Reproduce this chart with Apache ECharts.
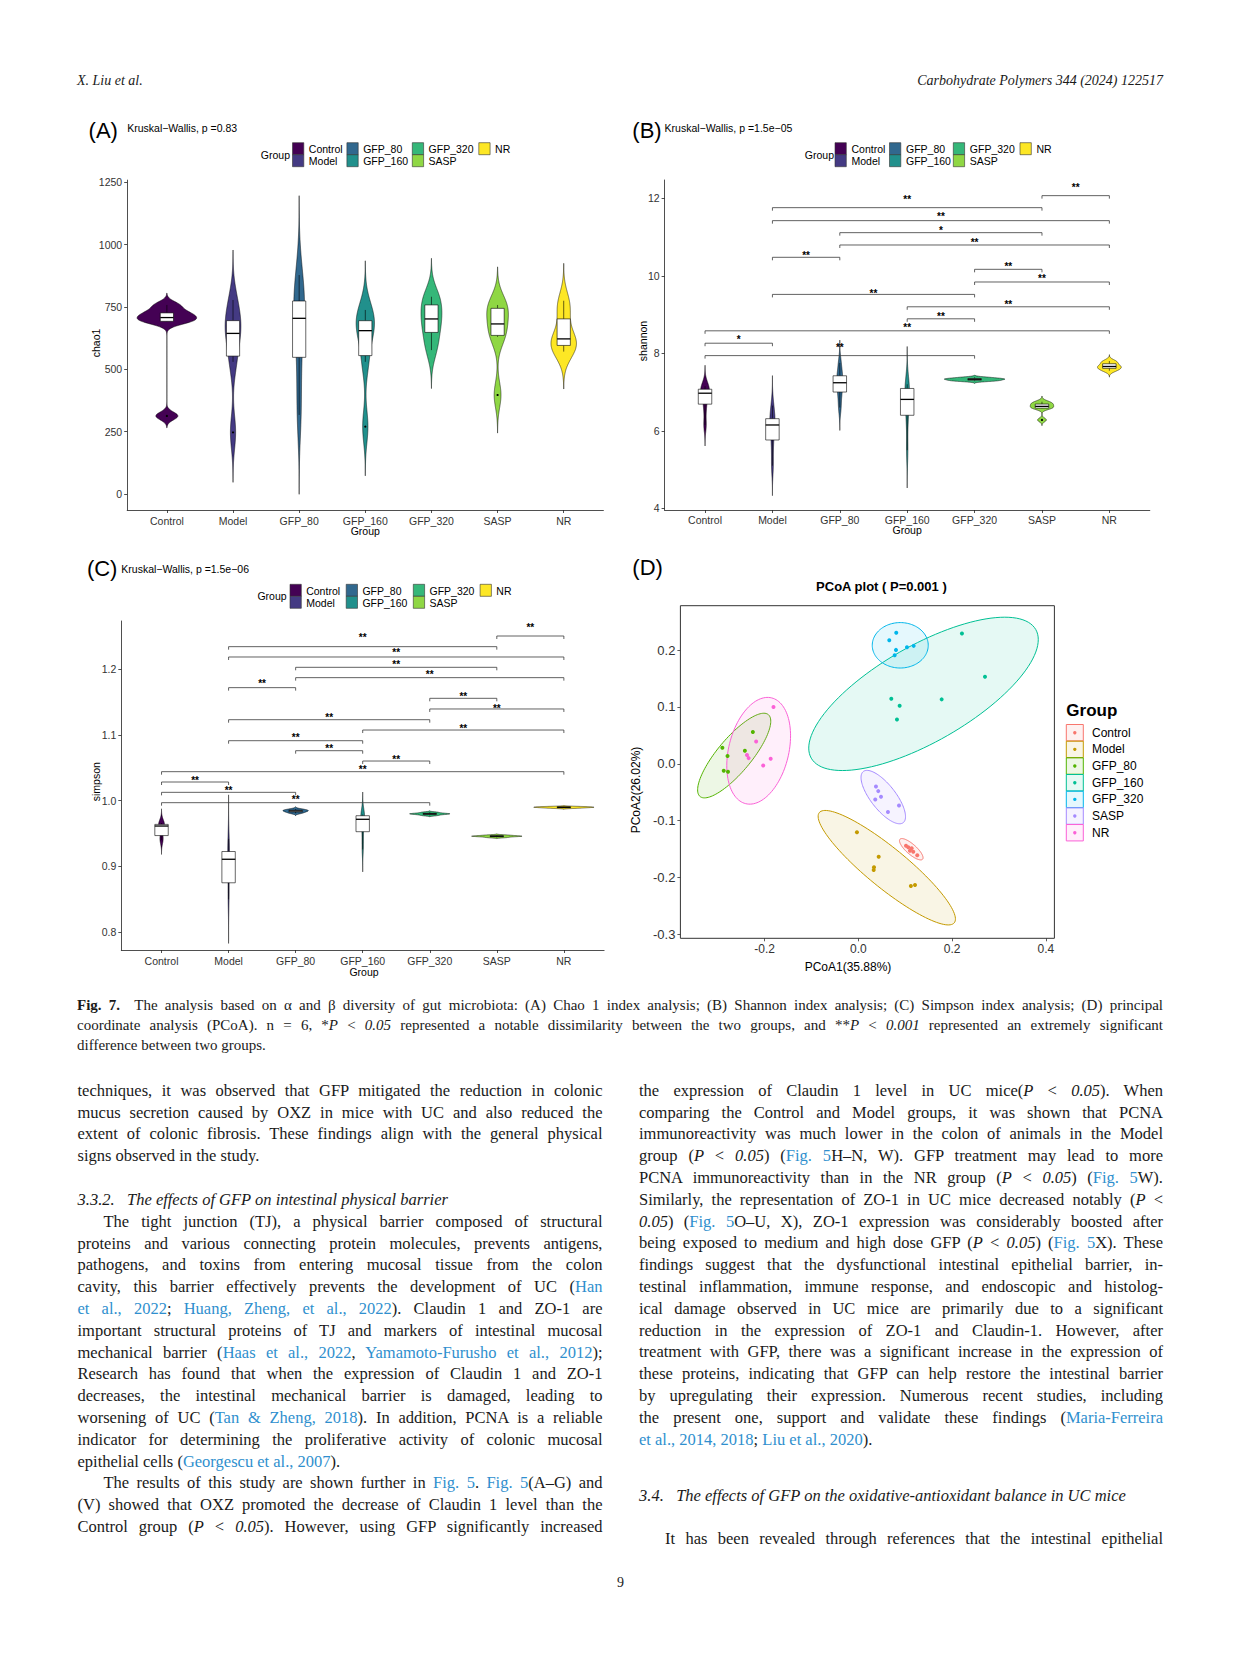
<!DOCTYPE html>
<html><head><meta charset="utf-8">
<script src="https://cdn.jsdelivr.net/npm/echarts@6/dist/echarts.min.js"></script>
<style>
html,body{margin:0;padding:0;background:#fff;}
#page{position:relative;width:1241px;height:1654px;overflow:hidden;background:#fff;}
#chart{position:absolute;left:0;top:0;width:1241px;height:1654px;}
.ln{position:absolute;font-family:'Liberation Serif','Times New Roman',serif;font-size:16.5px;line-height:20px;height:20px;text-align:justify;text-align-last:justify;color:#1a1a1a;z-index:2;}
.cap{font-size:15px;}
.last{text-align-last:left;}
.hd{font-style:italic;text-align:left;text-align-last:left;}
.lk{color:#2f8fce;}
</style></head>
<body><div id="page"><div id="chart"></div><div id="txt"></div></div>
<script>
// ---------------- data ----------------
const categories=['Control','Model','GFP_80','GFP_160','GFP_320','SASP','NR'];
const viridisColors=['#440154','#443A83','#31688E','#21908C','#35B779','#8FD744','#FDE725'];
const hueColors=['#F8766D','#C49A00','#53B400','#00C094','#00B6EB','#A58AFF','#FB61D7'];

const chao1=[
 [313,690,700,715,730,758],
 [247,530,622,666,705,778],
 [317,504,680,729,789,878],
 [270,530,630,680,700,738],
 [577,634,690,714,773,791],
 [397,630,654,710,756,758],
 [571,591,610,634,725,775]];
const shannon=[
 [6.15,6.6,6.95,6.99,7.1,7.15],
 [5.1,5.65,6.1,6.2,6.35,6.65],
 [6.6,6.95,7.15,7.33,7.45,7.75],
 [5.5,6.3,6.7,6.92,7.15,7.2],
 [7.28,7.30,7.32,7.34,7.35,7.38],
 [6.28,6.58,6.6,6.66,6.7,6.75],
 [7.55,7.6,7.65,7.67,7.75,7.8]];
const simpson=[
 [0.940,0.943,0.959,0.964,0.964,0.966],
 [0.850,0.865,0.906,0.916,0.925,0.942],
 [0.9808,0.9826,0.9838,0.9850,0.9858,0.9873],
 [0.926,0.9472,0.970,0.9735,0.9784,0.979],
 [0.9775,0.9790,0.9797,0.9803,0.9810,0.9825],
 [0.9440,0.9452,0.9458,0.9463,0.9468,0.9478],
 [0.9885,0.9893,0.9898,0.9902,0.9907,0.9912]];

const chao1Ticks=[0,250,500,750,1000,1250];
const shannonTicks=[4,6,8,10,12];
const simpsonTicks=[0.8,0.9,1.0,1.1,1.2];
const pcoaXTicks=[-0.2,0,0.2,0.4];
const pcoaYTicks=[-0.3,-0.2,-0.1,0,0.1,0.2];

// [group 1, group 2, bracket height, label, label height]
const shannonSig=[
 ['SASP','NR',12.068,'**',12.343],['Model','SASP',11.758,'**',12.026],['Model','NR',11.423,'**',11.577],
 ['GFP_80','SASP',11.113,'*',11.226],['GFP_80','NR',10.795,'**',10.924],['Model','GFP_80',10.477,'**',10.581],
 ['GFP_320','SASP',10.167,'**',10.287],['GFP_320','NR',9.84,'**',9.977],['Model','GFP_320',9.52,'**',9.608],
 ['GFP_160','NR',9.20,'**',9.316],['GFP_160','GFP_320',8.89,'**',9.014],['Control','NR',8.58,'**',8.712],
 ['Control','Model',8.26,'*',8.413],['Control','GFP_320',7.94,'**',8.206]];
const simpsonSig=[
 ['SASP','NR',1.2503,'**',1.2670],['Model','SASP',1.2341,'**',1.2508],['Model','NR',1.2184,'**',1.2290],
 ['GFP_80','SASP',1.2027,'**',1.2108],['GFP_80','NR',1.1870,'**',1.1945],['Model','GFP_80',1.1718,'**',1.1809],
 ['GFP_320','SASP',1.1556,'**',1.1622],['GFP_320','NR',1.1394,'**',1.1439],['Model','GFP_320',1.1231,'**',1.1302],
 ['GFP_160','NR',1.1074,'**',1.1125],['Model','GFP_160',1.0912,'**',1.0988],['GFP_80','GFP_160',1.0760,'**',1.0827],
 ['GFP_160','GFP_320',1.0603,'**',1.0653],['Control','NR',1.0441,'**',1.0508],['Control','Model',1.0284,'**',1.0340],
 ['Control','GFP_80',1.0127,'**',1.0182],['Control','GFP_320',0.9970,'**',1.0046]];

const pcoaPoints=[
 [[0.1015,-0.1441],[0.1064,-0.1469],[0.1136,-0.1487],[0.110,-0.1529],[0.117,-0.1547],[0.1256,-0.161]],
 [[-0.003,-0.1205],[0.0433,-0.1635],[0.0333,-0.1822],[0.0326,-0.187],[0.112,-0.2152],[0.1207,-0.2134]],
 [[-0.290,0.0282],[-0.279,0.0136],[-0.287,-0.0123],[-0.278,-0.0141],[-0.242,0.0229],[-0.225,0.0559]],
 [[0.2209,0.2293],[0.270,0.1534],[0.0702,0.1146],[0.088,0.1023],[0.1776,0.1134],[0.0823,0.0781]],
 [[0.0808,0.2305],[0.0659,0.2175],[0.0802,0.2005],[0.0774,0.191],[0.1036,0.2051],[0.1179,0.2076]],
 [[0.0375,-0.040],[0.0424,-0.0481],[0.0482,-0.0582],[0.036,-0.063],[0.0866,-0.0735],[0.0631,-0.0847]],
 [[-0.181,0.100],[-0.218,0.0393],[-0.2375,0.0153],[-0.234,0.010],[-0.187,0.0088],[-0.203,-0.003]]];
// ellipse: centre x, centre y, semi-axis vector a (x,y), conjugate semi-axis vector b (x,y)
const pcoaEllipses=[
 [0.1128,-0.1504,0.0241,-0.0176,0.0071,0.0066],
 [0.0606,-0.1829,0.1439,-0.0970,0.0269,0.0273],
 [-0.2648,0.0145,0.0729,0.0720,0.0277,-0.0192],
 [0.1389,0.1231,0.2394,0.1132,0.0508,-0.0735],
 [0.0893,0.2086,0.0597,0,0,0.040],
 [0.0531,-0.0586,0.0426,-0.0450,0.0209,0.0136],
 [-0.2126,0.0229,0.0277,0.0931,0.0621,-0.0127]];

// ---------------- helpers ----------------
const SANS='"Liberation Sans", Arial, sans-serif';
function quant(s,p){const h=(s.length-1)*p,lo=Math.floor(h),hi=Math.min(lo+1,s.length-1);return s[lo]+(h-lo)*(s[hi]-s[lo]);}
function boxStats(vals){const s=vals.slice().sort((a,b)=>a-b);const q1=quant(s,.25),med=quant(s,.5),q3=quant(s,.75),iqr=q3-q1;
 const lf=q1-1.5*iqr,uf=q3+1.5*iqr;const inn=s.filter(v=>v>=lf&&v<=uf);
 return {q1,med,q3,lw:inn[0],uw:inn[inn.length-1],out:s.filter(v=>v<lf||v>uf)};}
function density(vals){const s=vals.slice().sort((a,b)=>a-b),n=s.length;const mean=s.reduce((a,b)=>a+b,0)/n;
 const sd=Math.sqrt(s.reduce((a,b)=>a+(b-mean)*(b-mean),0)/(n-1));const iqr=quant(s,.75)-quant(s,.25);
 let lo=Math.min(sd,iqr/1.34);if(!(lo>0))lo=sd||1;const bw=0.9*lo*Math.pow(n,-0.2);
 const from=s[0]-3*bw,to=s[n-1]+3*bw,N=512,pts=[];
 for(let k=0;k<N;k++){const y=from+(to-from)*k/(N-1);let d=0;for(const v of s){const z=(y-v)/bw;d+=Math.exp(-0.5*z*z);}
  pts.push([y,d/(n*bw*Math.sqrt(2*Math.PI))]);}
 return pts;}
function rgba(hex,a){const n=parseInt(hex.slice(1),16);return `rgba(${n>>16&255},${n>>8&255},${n&255},${a})`;}
const catTicks=categories.map((c,i)=>i+1);

function catXAxis(g,margin){return {type:'value',gridIndex:g,min:0.4,max:7.6,
 axisLine:{show:true,onZero:false,lineStyle:{color:'#222',width:0.8}},
 axisTick:{show:true,customValues:catTicks,length:3,lineStyle:{color:'#222',width:0.8}},
 axisLabel:{show:true,customValues:catTicks,formatter:v=>categories[Math.round(v)-1]||'',color:'#333',fontSize:10.5,fontFamily:SANS,margin:margin},
 splitLine:{show:false}};}
function valYAxis(g,min,max,ticks,fmt){return {type:'value',gridIndex:g,min,max,
 axisLine:{show:true,onZero:false,lineStyle:{color:'#222',width:0.8}},
 axisTick:{show:true,customValues:ticks,length:3,lineStyle:{color:'#222',width:0.8}},
 axisLabel:{show:true,customValues:ticks,formatter:fmt,color:'#333',fontSize:10.5,fontFamily:SANS,margin:5},
 splitLine:{show:false}};}

function violinSeries(g,data,sig){
 const dens=data.map(density);
 const maxD=Math.max(...dens.map(p=>Math.max(...p.map(q=>q[1]))));
 const st=data.map(boxStats);
 const out=[];
 out.push({type:'custom',xAxisIndex:g,yAxisIndex:g,silent:true,z:2,
  data:st.map((s,i)=>[i+1,s.med]),encode:{x:0,y:1},
  renderItem:(params,api)=>{const i=params.dataIndex,x0=i+1,p=dens[i],L=[],R=[];
   for(const q of p){const w=q[1]/maxD*0.45;R.push(api.coord([x0+w,q[0]]));L.push(api.coord([x0-w,q[0]]));}
   return {type:'polygon',shape:{points:R.concat(L.reverse())},style:{fill:viridisColors[i],stroke:'#000',lineWidth:0.5}};}});
 out.push({type:'custom',xAxisIndex:g,yAxisIndex:g,silent:true,z:3,
  data:st.map((s,i)=>[i+1,s.med]),encode:{x:0,y:1},
  renderItem:(params,api)=>{const i=params.dataIndex,x=i+1,s=st[i],c=(a,b)=>api.coord([a,b]);
   const line=(p,q,w)=>({type:'line',shape:{x1:p[0],y1:p[1],x2:q[0],y2:q[1]},style:{stroke:'#000',lineWidth:w}});
   const ch=[line(c(x,s.q3),c(x,s.uw),0.6),line(c(x,s.q1),c(x,s.lw),0.6)];
   const a=c(x-0.1,s.q3),b=c(x+0.1,s.q1);
   ch.push({type:'rect',shape:{x:a[0],y:a[1],width:b[0]-a[0],height:Math.max(b[1]-a[1],0.5)},style:{fill:'#fff',stroke:'#000',lineWidth:0.6}});
   ch.push(line(c(x-0.1,s.med),c(x+0.1,s.med),1.3));
   s.out.forEach(o=>{const p=c(x,o);ch.push({type:'circle',shape:{cx:p[0],cy:p[1],r:1.1},style:{fill:'#000'}});});
   return {type:'group',children:ch};}});
 if(sig){
  out.push({type:'custom',xAxisIndex:g,yAxisIndex:g,silent:true,z:4,
   data:sig.map(s=>[categories.indexOf(s[0])+1,s[2],categories.indexOf(s[1])+1,s[4]]),encode:{x:[0,2],y:[1,3]},
   renderItem:(params,api)=>{const p1=api.coord([api.value(0),api.value(1)]),p2=api.coord([api.value(2),api.value(1)]);
    const xm=(api.value(0)+api.value(2))/2,pl=api.coord([xm,api.value(3)]);
    const lab=sig[params.dataIndex][3];
    return {type:'group',children:[
     {type:'polyline',shape:{points:[[p1[0],p1[1]+3],[p1[0],p1[1]],[p2[0],p2[1]],[p2[0],p2[1]+3]]},style:{stroke:'#3a3a3a',lineWidth:0.8,fill:null}},
     {type:'text',x:pl[0],y:pl[1]+2.2,style:{text:lab,font:'bold 10px '+SANS,fill:'#000',textAlign:'center',textVerticalAlign:'middle',align:'center',verticalAlign:'middle'}}]};}});
 }
 return out;}

function T(x,y,text,font,o){o=o||{};return {type:'text',x,y,rotation:o.rot||0,silent:true,z:10,
 style:{text,font:font,fill:o.fill||'#000',textAlign:o.align||'left',textVerticalAlign:'middle',align:o.align||'left',verticalAlign:'middle'}};}
function vLegend(titleRight,yTop,keyXs,dx){const els=[T(titleRight,yTop+12,'Group','10.5px '+SANS,{align:'right'})];
 categories.forEach((c,i)=>{const col=Math.floor(i/2),row=i%2,x=keyXs[col],y=yTop+row*12;
  els.push({type:'rect',silent:true,z:10,shape:{x,y,width:11.3,height:12},style:{fill:viridisColors[i],stroke:'#333',lineWidth:0.6}});
  els.push(T(x+dx,y+6.3,c,'10.5px '+SANS));});
 return els;}

const graphics=[].concat(
 [T(88.6,130,'(A)','22px '+SANS),T(127.2,128.3,'Kruskal\u2212Wallis, p =0.83','10.5px '+SANS),
  T(632.3,130,'(B)','22px '+SANS),T(664.6,128.3,'Kruskal\u2212Wallis, p =1.5e\u221205','10.5px '+SANS),
  T(86.9,568.3,'(C)','22px '+SANS),T(121.3,569,'Kruskal\u2212Wallis, p =1.5e\u221206','10.5px '+SANS),
  T(632.3,567.5,'(D)','22px '+SANS),
  T(95.5,343,'chao1','10.5px '+SANS,{align:'center',rot:Math.PI/2}),T(365.3,530.7,'Group','10.5px '+SANS,{align:'center'}),
  T(642.8,341,'shannon','10.5px '+SANS,{align:'center',rot:Math.PI/2}),T(907.2,530,'Group','10.5px '+SANS,{align:'center'}),
  T(95.5,781.7,'simpson','10.5px '+SANS,{align:'center',rot:Math.PI/2}),T(364,971.5,'Group','10.5px '+SANS,{align:'center'}),
  T(881.4,586,'PCoA plot ( P=0.001 )','bold 13px '+SANS,{align:'center'}),
  T(635.8,790,'PCoA2(26.02%)','12px '+SANS,{align:'center',rot:Math.PI/2}),
  T(848,966.7,'PCoA1(35.88%)','12px '+SANS,{align:'center'}),
  T(1066.3,710,'Group','bold 17px '+SANS)],
 vLegend(290,142.7,[292.5,346.9,412.3,478.8],16.3),
 vLegend(834,142.7,[835,889.5,953.3,1020],16.5),
 vLegend(286.6,584.3,[290,346.2,413.3,480.1],16.2));
categories.forEach((c,i)=>{const cy=732.7+i*16.67;
 graphics.push({type:'rect',silent:true,z:10,shape:{x:1066.3,y:cy-8.2,width:17,height:16.4},style:{fill:rgba(hueColors[i],0.1),stroke:hueColors[i],lineWidth:1}});
 graphics.push({type:'circle',silent:true,z:11,shape:{cx:1074.8,cy,r:1.7},style:{fill:hueColors[i]}});
 graphics.push(T(1092,cy,c,'12px '+SANS));});

const series=[].concat(violinSeries(0,chao1,null),violinSeries(1,shannon,shannonSig),violinSeries(2,simpson,simpsonSig));
series.push({type:'custom',xAxisIndex:3,yAxisIndex:3,silent:true,z:2,data:pcoaEllipses.map(e=>[e[0],e[1]]),encode:{x:0,y:1},
 renderItem:(params,api)=>{const e=pcoaEllipses[params.dataIndex],pts=[];
  for(let k=0;k<120;k++){const t=2*Math.PI*k/120;pts.push(api.coord([e[0]+e[2]*Math.cos(t)+e[4]*Math.sin(t),e[1]+e[3]*Math.cos(t)+e[5]*Math.sin(t)]));}
  const col=hueColors[params.dataIndex];
  return {type:'polygon',shape:{points:pts},style:{fill:rgba(col,0.1),stroke:col,lineWidth:1}};}});
pcoaPoints.forEach((pts,i)=>series.push({type:'scatter',xAxisIndex:3,yAxisIndex:3,silent:true,z:5,data:pts,symbolSize:4,itemStyle:{color:hueColors[i],opacity:1}}));

const pcoaFmt=v=>(Math.abs(v)<1e-9?0:v).toFixed(1);
const option={animation:false,backgroundColor:'#fff',
 grid:[
  {left:127.2,top:180.1,width:476.2,height:329.9,outerBoundsMode:'none'},
  {left:664.6,top:180,width:485.2,height:330,outerBoundsMode:'none'},
  {left:121.3,top:621,width:482.8,height:329,outerBoundsMode:'none'},
  {left:680.4,top:605.7,width:374,height:332.6,show:true,borderColor:'#333',borderWidth:1,backgroundColor:'transparent',outerBoundsMode:'none'}],
 xAxis:[catXAxis(0,5),catXAxis(1,4),catXAxis(2,5),
  {type:'value',gridIndex:3,min:-0.3795,max:0.418,axisLine:{show:false,onZero:false},
   axisTick:{show:true,customValues:pcoaXTicks,length:3,lineStyle:{color:'#333',width:0.8}},
   axisLabel:{show:true,customValues:pcoaXTicks,formatter:pcoaFmt,color:'#333',fontSize:12,fontFamily:SANS,margin:5},splitLine:{show:false}}],
 yAxis:[valYAxis(0,-64.2,1258.8,chao1Ticks,v=>String(v)),
  valYAxis(1,3.956,12.472,shannonTicks,v=>String(v)),
  valYAxis(2,0.7731,1.2731,simpsonTicks,v=>v.toFixed(1)),
  {type:'value',gridIndex:3,min:-0.3072,max:0.2783,axisLine:{show:false,onZero:false},
   axisTick:{show:true,customValues:pcoaYTicks,length:3,lineStyle:{color:'#333',width:0.8}},
   axisLabel:{show:true,customValues:pcoaYTicks,formatter:pcoaFmt,color:'#333',fontSize:13,fontFamily:SANS,margin:5},splitLine:{show:false}}],
 series,
 graphic:{elements:graphics}};
const chart=echarts.init(document.getElementById('chart'),null,{renderer:'svg'});
chart.setOption(option);

// ---------------- page text ----------------
const lk=s=>'<span class="lk">'+s+'</span>';
const P='<i>P</i> &lt; <i>0.05</i>';
const leftA=["techniques, it was observed that GFP mitigated the reduction in colonic",
 "mucus secretion caused by OXZ in mice with UC and also reduced the",
 "extent of colonic fibrosis. These findings align with the general physical",
 "|signs observed in the study."];
const leftB=[">The tight junction (TJ), a physical barrier composed of structural",
 "proteins and various connecting protein molecules, prevents antigens,",
 "pathogens, and toxins from entering mucosal tissue from the colon",
 "cavity, this barrier effectively prevents the development of UC ("+lk("Han"),
 lk("et al., 2022")+"; "+lk("Huang, Zheng, et al., 2022")+"). Claudin 1 and ZO-1 are",
 "important structural proteins of TJ and markers of intestinal mucosal",
 "mechanical barrier ("+lk("Haas et al., 2022")+", "+lk("Yamamoto-Furusho et al., 2012")+");",
 "Research has found that when the expression of Claudin 1 and ZO-1",
 "decreases, the intestinal mechanical barrier is damaged, leading to",
 "worsening of UC ("+lk("Tan &amp; Zheng, 2018")+"). In addition, PCNA is a reliable",
 "indicator for determining the proliferative activity of colonic mucosal",
 "|epithelial cells ("+lk("Georgescu et al., 2007")+").",
 ">The results of this study are shown further in "+lk("Fig. 5")+". "+lk("Fig. 5")+"(A–G) and",
 "(V) showed that OXZ promoted the decrease of Claudin 1 level than the",
 "Control group ("+P+"). However, using GFP significantly increased"];
const rightA=["the expression of Claudin 1 level in UC mice("+P+"). When",
 "comparing the Control and Model groups, it was shown that PCNA",
 "immunoreactivity was much lower in the colon of animals in the Model",
 "group ("+P+") ("+lk("Fig. 5")+"H–N, W). GFP treatment may lead to more",
 "PCNA immunoreactivity than in the NR group ("+P+") ("+lk("Fig. 5")+"W).",
 "Similarly, the representation of ZO-1 in UC mice decreased notably (<i>P</i> &lt;",
 "<i>0.05</i>) ("+lk("Fig. 5")+"O–U, X), ZO-1 expression was considerably boosted after",
 "being exposed to medium and high dose GFP ("+P+") ("+lk("Fig. 5")+"X). These",
 "findings suggest that the dysfunctional intestinal epithelial barrier, in-",
 "testinal inflammation, immune response, and endoscopic and histolog-",
 "ical damage observed in UC mice are primarily due to a significant",
 "reduction in the expression of ZO-1 and Claudin-1. However, after",
 "treatment with GFP, there was a significant increase in the expression of",
 "these proteins, indicating that GFP can help restore the intestinal barrier",
 "by upregulating their expression. Numerous recent studies, including",
 "the present one, support and validate these findings ("+lk("Maria-Ferreira"),
 "|"+lk("et al., 2014, 2018")+"; "+lk("Liu et al., 2020")+")."];
const captionLines=["<b>Fig. 7.</b>&nbsp; The analysis based on α and β diversity of gut microbiota: (A) Chao 1 index analysis; (B) Shannon index analysis; (C) Simpson index analysis; (D) principal",
 "coordinate analysis (PCoA). n = 6, *<i>P</i> &lt; <i>0.05</i> represented a notable dissimilarity between the two groups, and **<i>P</i> &lt; <i>0.001</i> represented an extremely significant",
 "|difference between two groups."];
let html='';
function addLines(arr,x,w,y0,pitch,cls){arr.forEach((s,k)=>{let c='ln '+(cls||''),st='';
 if(s[0]==='|'){c+=' last';s=s.slice(1);} if(s[0]==='>'){st='text-indent:26px;';s=s.slice(1);}
 html+=`<div class="${c}" style="left:${x}px;width:${w}px;top:${(y0+k*pitch-10).toFixed(1)}px;${st}">${s}</div>`;});}
function addOne(s,x,y,cls,extra){html+=`<div class="ln ${cls}" style="left:${x}px;top:${(y-10).toFixed(1)}px;${extra||''}">${s}</div>`;}
addOne('<i>X. Liu et al.</i>',77,81,'last','font-size:14px;');
addOne('<i>Carbohydrate Polymers 344 (2024) 122517</i>',0,81,'last','font-size:14px;width:1163px;text-align:right;text-align-last:right;');
addLines(captionLines,77,1086,1004.6,20.1,'cap');
addLines(leftA,77.5,525,1090.7,21.8);
addOne('3.3.2.&nbsp;&nbsp;&nbsp;The effects of GFP on intestinal physical barrier',77.5,1200,'hd','width:525px;');
addLines(leftB,77.5,525,1221.8,21.8);
addLines(rightA,639,524,1090.7,21.8);
addOne('3.4.&nbsp;&nbsp;&nbsp;The effects of GFP on the oxidative-antioxidant balance in UC mice',639,1495.5,'hd','width:524px;');
addLines([">It has been revealed through references that the intestinal epithelial"],639,524,1538.7,21.8);
addOne('9',0,1583,'last','width:1241px;text-align:center;text-align-last:center;font-size:14px;');
document.getElementById('txt').innerHTML=html;
</script></body></html>
